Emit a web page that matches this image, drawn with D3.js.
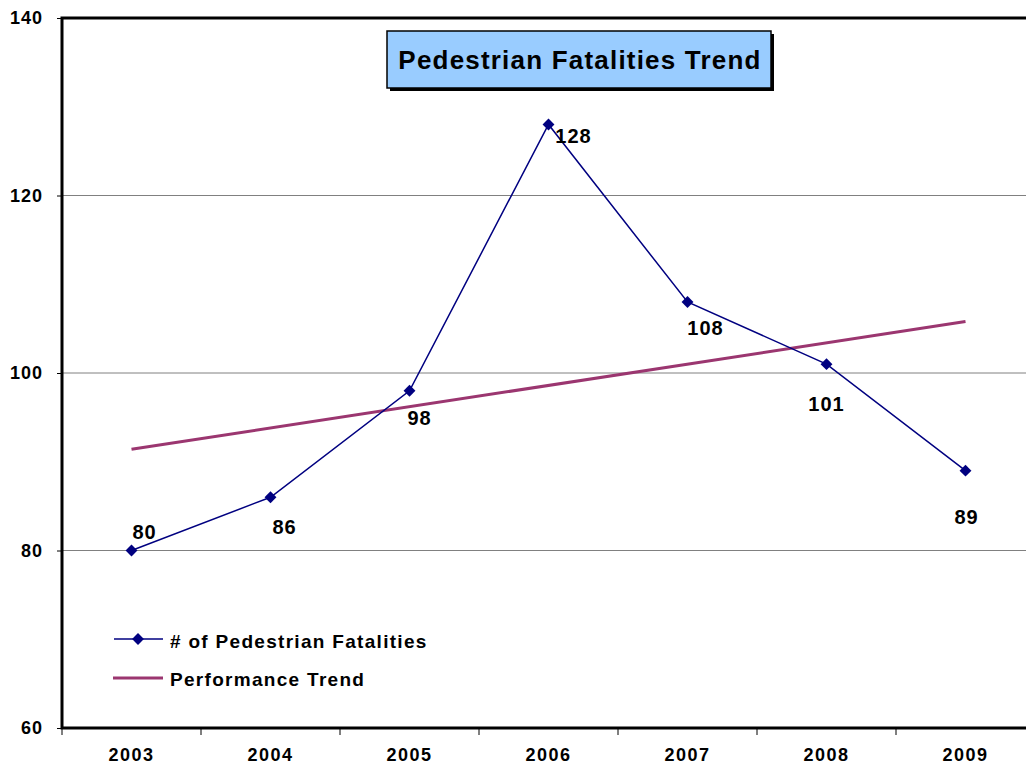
<!DOCTYPE html>
<html>
<head>
<meta charset="utf-8">
<script src="https://cdn.jsdelivr.net/npm/d3@7"></script>
<style>
body { margin: 0; background: #fff; }
text { font-family: "Liberation Sans", Arial, sans-serif; font-weight: bold; }
</style>
</head>
<body>
<script>
var width = 1026,
    height = 770;

// data
var years = ["2003", "2004", "2005", "2006", "2007", "2008", "2009"];
var fatalities = [80, 86, 98, 128, 108, 101, 89];
var trendEnds = [91.4, 105.8];   // performance trend at 2003 and 2009
var yTicks = [60, 80, 100, 120, 140];

// label nudges (px) for the value labels
var labelDx = [13, 14, 10, 25, 18, 0, 1];
var labelDy = [-19, 30, 27, 11, 26, 40, 46];

var plotLeft = 62, plotTop = 18, plotBottom = 728, plotRight = 62 + 7 * 139;

var svg = d3.select("body").append("svg")
    .attr("width", width)
    .attr("height", height);

var x = d3.scaleBand().domain(years).range([plotLeft, plotRight]);
var y = d3.scaleLinear().domain([60, 140]).range([plotBottom, plotTop]);

//gridlines
svg.append("g").selectAll("line")
    .data([80, 100, 120]).enter().append("line")
    .attr("x1", plotLeft).attr("x2", width)
    .attr("y1", function(d){return y(d);}).attr("y2", function(d){return y(d);})
    .attr("stroke", "#808080").attr("stroke-width", 1);

//y axis
var yAxis = svg.append("g")
    .attr("transform", "translate(" + plotLeft + ",0)")
    .call(d3.axisLeft(y).tickValues(yTicks).tickSize(5).tickPadding(14));
yAxis.select(".domain").remove();
yAxis.selectAll("text").attr("font-size", 18).attr("letter-spacing", 1).attr("fill", "#000");

//x axis
var xAxis = svg.append("g")
    .attr("transform", "translate(0," + plotBottom + ")")
    .call(d3.axisBottom(x).tickSize(0).tickPadding(20));
xAxis.select(".domain").remove();
xAxis.selectAll("text").attr("font-size", 18).attr("letter-spacing", 1.5).attr("fill", "#000");
xAxis.selectAll(".sep").data(years).enter().append("line")
    .attr("x1", function(d){return x(d);}).attr("x2", function(d){return x(d);})
    .attr("y1", 0).attr("y2", 7)
    .attr("stroke", "#000").attr("stroke-width", 1);

//frame: left, top, bottom
svg.append("path")
    .attr("d", "M" + width + "," + plotTop + "H" + plotLeft + "V" + plotBottom + "H" + width)
    .attr("fill", "none").attr("stroke", "#000").attr("stroke-width", 3);

//performance trend
var cx = function(i){return x(years[i]) + x.bandwidth() / 2;};
svg.append("line")
    .attr("x1", cx(0)).attr("y1", y(trendEnds[0]))
    .attr("x2", cx(years.length - 1)).attr("y2", y(trendEnds[1]))
    .attr("stroke", "#9B3670").attr("stroke-width", 3);

//fatalities line
var line = d3.line().x(function(d, i){return cx(i);}).y(function(d){return y(d);});
svg.append("path")
    .datum(fatalities)
    .attr("d", line)
    .attr("fill", "none").attr("stroke", "#000080").attr("stroke-width", 1.5);

var diamond = d3.symbol().type(d3.symbolDiamond2).size(90);
svg.append("g").selectAll("path")
    .data(fatalities).enter().append("path")
    .attr("d", diamond)
    .attr("transform", function(d, i){return "translate(" + cx(i) + "," + y(d) + ")";})
    .attr("fill", "#000080");

//value labels
svg.append("g").selectAll("text")
    .data(fatalities).enter().append("text")
    .attr("x", function(d, i){return cx(i) + labelDx[i];})
    .attr("y", function(d, i){return y(d) + labelDy[i];})
    .attr("dy", "0.35em")
    .attr("text-anchor", "middle")
    .attr("font-size", 20)
    .attr("letter-spacing", 1)
    .text(function(d){return d;});

//title box
var title = svg.append("g");
title.append("rect")
    .attr("x", 390).attr("y", 34).attr("width", 384).attr("height", 57)
    .attr("fill", "#000");
title.append("rect")
    .attr("x", 387).attr("y", 31).attr("width", 384).attr("height", 57)
    .attr("fill", "#99CCFF").attr("stroke", "#000").attr("stroke-width", 1.5);
title.append("text")
    .attr("x", 580).attr("y", 60).attr("dy", "0.35em")
    .attr("text-anchor", "middle").attr("font-size", 26)
    .attr("letter-spacing", 1.2)
    .text("Pedestrian Fatalities Trend");

//legend
var legend = svg.append("g");
legend.append("line")
    .attr("x1", 114).attr("x2", 163).attr("y1", 639).attr("y2", 639)
    .attr("stroke", "#000080").attr("stroke-width", 1.5);
legend.append("path")
    .attr("d", diamond)
    .attr("transform", "translate(138,639)")
    .attr("fill", "#000080");
legend.append("text")
    .attr("x", 170).attr("y", 641).attr("dy", "0.35em")
    .attr("font-size", 19).attr("letter-spacing", 1.3)
    .text("# of Pedestrian Fatalities");
legend.append("line")
    .attr("x1", 113).attr("x2", 163).attr("y1", 678).attr("y2", 678)
    .attr("stroke", "#9B3670").attr("stroke-width", 3);
legend.append("text")
    .attr("x", 170).attr("y", 679).attr("dy", "0.35em")
    .attr("font-size", 19).attr("letter-spacing", 1.3)
    .text("Performance Trend");
</script>
</body>
</html>
